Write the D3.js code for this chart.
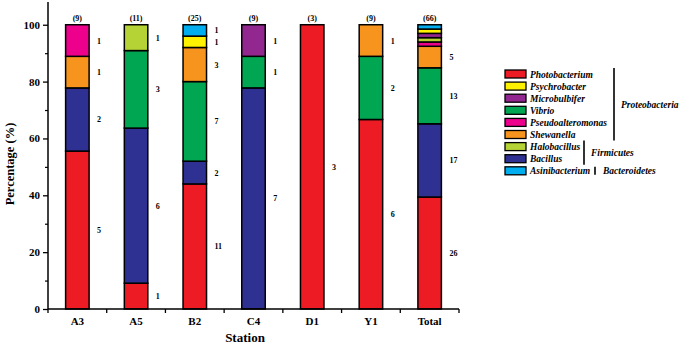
<!DOCTYPE html>
<html lang="en">
<head>
    <meta charset="UTF-8">
    <title>Genus composition by station</title>
    <script src="https://cdnjs.cloudflare.com/ajax/libs/d3/7.8.5/d3.min.js"></script>
    <style>
        body { margin: 0; background: #fff; }
        svg text { font-family: "Liberation Serif", "Times New Roman", serif; font-weight: bold; fill: #000; }
        .legend text.genus { font-style: italic; }
        .legend text.phylum { font-style: italic; }
    </style>
</head>
<body>
    <div id="chart"></div>

    <script>
        // stations and genera (stack order bottom -> top)
        const stations = ["A3", "A5", "B2", "C4", "D1", "Y1", "Total"];
        const genera = ["Photobacterium", "Bacillus", "Vibrio", "Shewanella", "Pseudoalteromonas",
                        "Halobacillus", "Microbulbifer", "Psychrobacter", "Asinibacterium"];
        const colors = ["#ED1C24", "#2E3192", "#00A651", "#F7941D", "#EC008C",
                        "#B5D334", "#92278F", "#FFF200", "#00AEEF"];

        // isolate counts per genus, one value per station
        const photobacterium    = [5, 1, 11, 0, 3, 6, 26];
        const bacillus          = [2, 6, 2, 7, 0, 0, 17];
        const vibrio            = [0, 3, 7, 1, 0, 2, 13];
        const shewanella        = [1, 0, 3, 0, 0, 1, 5];
        const pseudoalteromonas = [1, 0, 0, 0, 0, 0, 1];
        const halobacillus      = [0, 1, 0, 0, 0, 0, 1];
        const microbulbifer     = [0, 0, 0, 1, 0, 0, 1];
        const psychrobacter     = [0, 0, 1, 0, 0, 0, 1];
        const asinibacterium    = [0, 0, 1, 0, 0, 0, 1];

        const yTicks = [0, 20, 40, 60, 80, 100];

        // legend order and phylum groups
        const legendOrder = ["Photobacterium", "Psychrobacter", "Microbulbifer", "Vibrio",
                             "Pseudoalteromonas", "Shewanella", "Halobacillus", "Bacillus", "Asinibacterium"];
        const phyla = [
            { name: "Proteobacteria", first: 0, last: 5 },
            { name: "Firmicutes", first: 6, last: 7 },
            { name: "Bacteroidetes", first: 8, last: 8 }
        ];

        const counts = [photobacterium, bacillus, vibrio, shewanella, pseudoalteromonas,
                        halobacillus, microbulbifer, psychrobacter, asinibacterium];

        // one row per station, percentages for the stack
        const rows = stations.map(function(s, i) {
            const row = { station: s, total: 0 };
            genera.forEach(function(g, j) { row[g] = counts[j][i]; row.total += counts[j][i]; });
            return row;
        });

        const width = 680, height = 346;
        const svg = d3.select("#chart").append("svg")
            .attr("width", width)
            .attr("height", height);

        const x = d3.scaleBand().domain(stations).range([48, 459]).padding(0);
        const y = d3.scaleLinear().domain([0, 108]).range([309, 2]);
        const barW = x.bandwidth() * 0.4;
        const color = d3.scaleOrdinal().domain(genera).range(colors);

        const series = d3.stack().keys(genera)
            .value(function(d, key) { return d[key] / d.total * 100; })(rows);

        // bars
        const layer = svg.append("g").selectAll("g")
            .data(series)
            .enter().append("g")
            .attr("fill", function(d) { return color(d.key); });

        layer.selectAll("rect")
            .data(function(d) { return d.filter(function(p) { return p[1] - p[0] > 0; }); })
            .enter().append("rect")
            .attr("x", function(d) { return x(d.data.station) + (x.bandwidth() - barW) / 2; })
            .attr("width", barW)
            .attr("y", function(d) { return y(d[1]); })
            .attr("height", function(d) { return y(d[0]) - y(d[1]); })
            .attr("stroke", "#000")
            .attr("stroke-width", 1.5);

        // count labels beside segments (small Total segments not labelled)
        const labels = svg.append("g");
        series.forEach(function(s) {
            s.forEach(function(p) {
                const n = p.data[s.key];
                if (n === 0) return;
                if (p.data.station === "Total" && n < 2) return;
                labels.append("text")
                    .attr("x", x(p.data.station) + x.bandwidth() / 2 + barW / 2 + 8)
                    .attr("y", y((p[0] + p[1]) / 2) + 3)
                    .attr("font-size", 8)
                    .text(n);
            });
        });

        // totals above bars
        svg.append("g").selectAll("text")
            .data(rows)
            .enter().append("text")
            .attr("x", function(d) { return x(d.station) + x.bandwidth() / 2; })
            .attr("y", y(100) - 4)
            .attr("text-anchor", "middle")
            .attr("font-size", 8)
            .text(function(d) { return "(" + d.total + ")"; });

        // axes
        const yAxis = svg.append("g")
            .attr("transform", "translate(48,0)")
            .call(d3.axisLeft(y).tickValues(yTicks).tickSize(5).tickPadding(3));
        yAxis.select(".domain").attr("d", "M0," + y(0) + "V" + y(108)).attr("stroke-width", 1.5);
        yAxis.selectAll("text").attr("font-size", 11).attr("font-family", null);
        yAxis.selectAll("line").attr("stroke-width", 1.3);
        svg.append("g")
            .attr("transform", "translate(48,0)")
            .call(d3.axisLeft(y).tickValues([10, 30, 50, 70, 90]).tickSize(3).tickFormat(""))
            .call(function(g) { g.select(".domain").remove(); g.selectAll("line").attr("stroke-width", 1.2); });

        const xAxis = svg.append("g")
            .attr("transform", "translate(0,309)")
            .call(d3.axisBottom(x).tickSize(0).tickPadding(8));
        xAxis.select(".domain").attr("d", "M48,0H459").attr("stroke-width", 1.5);
        xAxis.selectAll("text").attr("font-size", 11).attr("font-family", null);
        xAxis.selectAll(".bound")
            .data(stations.map(function(s) { return x(s); }).concat([459]))
            .enter().append("line")
            .attr("class", "bound")
            .attr("x1", function(d) { return d; }).attr("x2", function(d) { return d; })
            .attr("y1", 0).attr("y2", 4)
            .attr("stroke", "#000").attr("stroke-width", 1.3);

        svg.append("text")
            .attr("x", 245).attr("y", 342)
            .attr("text-anchor", "middle")
            .attr("font-size", 13)
            .text("Station");

        svg.append("text")
            .attr("transform", "translate(14,164) rotate(-90)")
            .attr("text-anchor", "middle")
            .attr("font-size", 12.5)
            .text("Percentage (%)");

        // legend
        const legend = svg.append("g").attr("class", "legend");
        const rowY = function(i) { return 74 + i * 12.1; };
        legendOrder.forEach(function(g, i) {
            legend.append("rect")
                .attr("x", 505).attr("y", rowY(i) - 4)
                .attr("width", 21).attr("height", 8)
                .attr("fill", color(g))
                .attr("stroke", "#000").attr("stroke-width", 1.3);
            legend.append("text")
                .attr("class", "genus")
                .attr("x", 530).attr("y", rowY(i) + 3.5)
                .attr("font-size", 9.5)
                .text(g);
        });

        const bracketX = [614, 584, 595];
        const labelX = [621, 591, 603];
        phyla.forEach(function(p, k) {
            const y0 = rowY(p.first) - 4, y1 = rowY(p.last) + 4;
            legend.append("line")
                .attr("x1", bracketX[k]).attr("x2", bracketX[k])
                .attr("y1", k === 2 ? y0 : y0 - 2).attr("y2", k === 2 ? y1 : y1 + 2)
                .attr("stroke", "#000").attr("stroke-width", 1.6);
            legend.append("text")
                .attr("class", "phylum")
                .attr("x", labelX[k]).attr("y", (y0 + y1) / 2 + 3.5)
                .attr("font-size", 9.5)
                .text(p.name);
        });
    </script>
</body>
</html>
